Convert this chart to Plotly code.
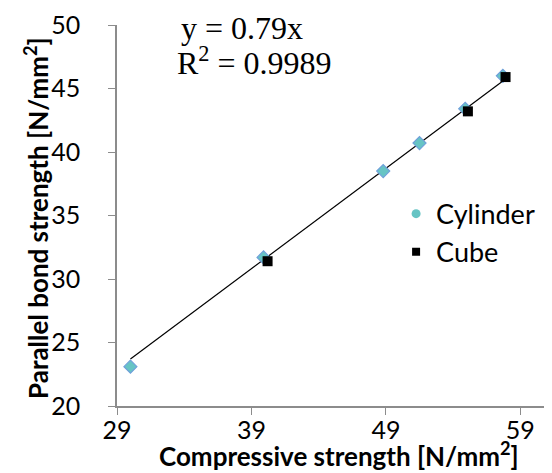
import plotly.graph_objects as go

# Data
cyl_x = [30.0, 39.9, 48.8, 51.5, 54.9, 57.7]
cyl_y = [23.1, 31.7, 38.5, 40.7, 43.4, 46.0]
cube_x = [40.2, 55.1, 57.9]
cube_y = [31.4, 43.2, 45.9]
slope = 0.79
x_ticks = [29, 39, 49, 59]
y_ticks = [20, 25, 30, 35, 40, 45, 50]

all_x = cyl_x + cube_x
tx = [min(all_x), max(all_x)]
ty = [slope * v for v in tx]

fig = go.Figure()
fig.add_trace(go.Scatter(x=tx, y=ty, mode="lines", line=dict(color="black", width=1.2),
                         showlegend=False, hoverinfo="skip"))
fig.add_trace(go.Scatter(x=cyl_x, y=cyl_y, mode="markers", showlegend=False,
                         marker=dict(symbol="diamond", size=10, color="#66C4C4",
                                     line=dict(color="#6FA0DA", width=1.2))))
fig.add_trace(go.Scatter(x=cube_x, y=cube_y, mode="markers", showlegend=False,
                         marker=dict(symbol="square", size=10, color="black")))
# legend proxies
fig.add_trace(go.Scatter(x=[None], y=[None], mode="markers", name="Cylinder", legendgroup="a",
                         marker=dict(symbol="circle", size=9, color="#66C4C4")))
fig.add_trace(go.Scatter(x=[None], y=[None], mode="markers", name="Cube", legendgroup="b",
                         marker=dict(symbol="square", size=8, color="black")))

tickfont = dict(family="Lato", size=25, color="black")
titlefont = dict(family="Lato", size=26, color="black")
serif = dict(family="Liberation Serif", size=32, color="black")

fig.update_layout(
    width=552, height=473,
    margin=dict(l=109, r=0, t=17, b=75),
    plot_bgcolor="white", paper_bgcolor="white",
    xaxis=dict(range=[29, 61.95], tickvals=x_ticks, showgrid=False, zeroline=False,
               showline=True, linecolor="#8C8C8C", linewidth=1.5,
               ticks="outside", ticklen=7, tickcolor="#8C8C8C", tickfont=tickfont,
               ticklabelstandoff=-6),
    yaxis=dict(range=[20, 50], tickvals=y_ticks, showgrid=False, zeroline=False,
               showline=True, linecolor="#8C8C8C", linewidth=1.5,
               ticks="outside", ticklen=7, tickcolor="#8C8C8C", tickfont=tickfont,
               ticklabelstandoff=23),
    legend=dict(x=0.63, y=0.568, xanchor="left", yanchor="top", font=dict(family="Lato", size=27, color="black"),
                tracegroupgap=0, bgcolor="rgba(0,0,0,0)"),
    annotations=[
        dict(text="<b>Compressive strength [N/mm<sup>2</sup>]</b>", xref="paper", yref="paper",
             x=0.5, y=(398 - 446) / 381, showarrow=False, font=titlefont,
             xanchor="center", yanchor="middle"),
        dict(text="<b>Parallel bond strength [N/mm<sup>2</sup>]</b>", xref="paper", yref="paper",
             x=(28 - 109) / 443, y=(398 - 210) / 381, showarrow=False, font=titlefont, textangle=-90,
             xanchor="center", yanchor="middle"),
        dict(text="y = 0.79x", xref="paper", yref="paper", x=(234 - 109) / 443, y=(398 - 20) / 381,
             showarrow=False, font=serif, xanchor="center", yanchor="middle"),
        dict(text="R<sup>2</sup> = 0.9989", xref="paper", yref="paper", x=(246 - 109) / 443, y=(398 - 53) / 381,
             showarrow=False, font=serif, xanchor="center", yanchor="middle"),
    ],
)
fig.write_html("out.html")
